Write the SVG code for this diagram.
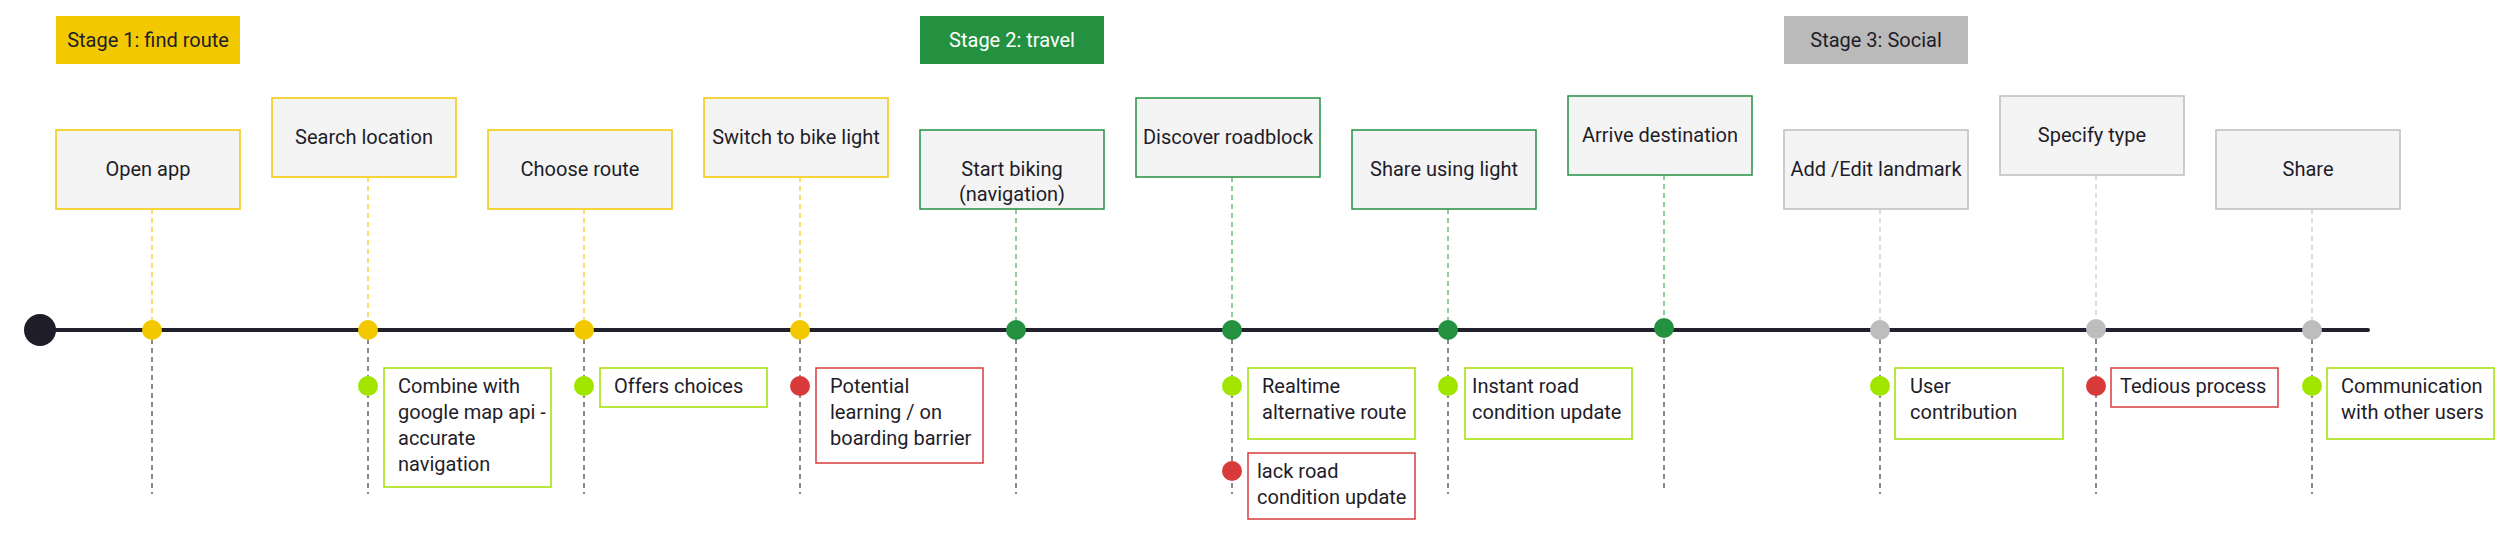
<svg xmlns="http://www.w3.org/2000/svg" width="2512" height="553" viewBox="0 0 2512 553">
<style>
text{font-family:Roboto,"Liberation Sans",sans-serif;font-size:20px;fill:#1f1d29}
.c{text-anchor:middle}
.w{fill:#ffffff}
.box{fill:#f4f4f4;stroke-width:1.5}
.y{stroke:#f2c900}
.g{stroke:#239140}
.s{stroke:#bdbdbd}
.note{fill:#ffffff;stroke-width:1.5}
.ok{stroke:#a2e000}
.bad{stroke:#d93b3b}
.dy{stroke:#f7dc6e;stroke-width:2;stroke-dasharray:5 4;fill:none}
.dg{stroke:#8ccf9c;stroke-width:2;stroke-dasharray:5 4;fill:none}
.ds{stroke:#dddddd;stroke-width:2;stroke-dasharray:5 4;fill:none}
.dd{stroke:#8a8a8a;stroke-width:2;stroke-dasharray:5 4;fill:none}
</style>
<rect width="2512" height="553" fill="#ffffff"/>

<g id="stages">
<g id="stage1"><rect x="56" y="16" width="184" height="48" fill="#f2c900"/><text x="148" y="47" class="c">Stage 1: find route</text></g>
<g id="stage2"><rect x="920" y="16" width="184" height="48" fill="#239140"/><text x="1012" y="47" class="c w">Stage 2: travel</text></g>
<g id="stage3"><rect x="1784" y="16" width="184" height="48" fill="#bababa"/><text x="1876" y="47" class="c">Stage 3: Social</text></g>
</g>

<g id="connectors">
<line x1="152" y1="209" x2="152" y2="330" class="dy"/>
<line x1="368" y1="177" x2="368" y2="330" class="dy"/>
<line x1="584" y1="209" x2="584" y2="330" class="dy"/>
<line x1="800" y1="177" x2="800" y2="330" class="dy"/>
<line x1="1016" y1="209" x2="1016" y2="330" class="dg"/>
<line x1="1232" y1="177" x2="1232" y2="330" class="dg"/>
<line x1="1448" y1="209" x2="1448" y2="330" class="dg"/>
<line x1="1664" y1="175" x2="1664" y2="330" class="dg"/>
<line x1="1880" y1="209" x2="1880" y2="330" class="ds"/>
<line x1="2096" y1="175" x2="2096" y2="330" class="ds"/>
<line x1="2312" y1="209" x2="2312" y2="330" class="ds"/>
<line x1="152" y1="330" x2="152" y2="494" class="dd"/>
<line x1="368" y1="330" x2="368" y2="494" class="dd"/>
<line x1="584" y1="330" x2="584" y2="494" class="dd"/>
<line x1="800" y1="330" x2="800" y2="494" class="dd"/>
<line x1="1016" y1="330" x2="1016" y2="494" class="dd"/>
<line x1="1232" y1="330" x2="1232" y2="494" class="dd"/>
<line x1="1448" y1="330" x2="1448" y2="494" class="dd"/>
<line x1="1664" y1="330" x2="1664" y2="492" class="dd"/>
<line x1="1880" y1="330" x2="1880" y2="494" class="dd"/>
<line x1="2096" y1="330" x2="2096" y2="494" class="dd"/>
<line x1="2312" y1="330" x2="2312" y2="494" class="dd"/>
<line id="timeline" x1="40" y1="330" x2="2368" y2="330" stroke="#23202e" stroke-width="4" stroke-linecap="round"/>
<circle cx="40" cy="330" r="16" fill="#201d2b"/>
</g>

<g id="n-open-app"><rect x="56" y="130" width="184" height="79" class="box y"/><text x="148" y="176" class="c">Open app</text><circle cx="152" cy="330" r="10" fill="#f2c900"/></g>
<g id="n-search-location"><rect x="272" y="98" width="184" height="79" class="box y"/><text x="364" y="144" class="c">Search location</text><circle cx="368" cy="330" r="10" fill="#f2c900"/></g>
<g id="n-choose-route"><rect x="488" y="130" width="184" height="79" class="box y"/><text x="580" y="176" class="c">Choose route</text><circle cx="584" cy="330" r="10" fill="#f2c900"/></g>
<g id="n-switch-light"><rect x="704" y="98" width="184" height="79" class="box y"/><text x="796" y="144" class="c">Switch to bike light</text><circle cx="800" cy="330" r="10" fill="#f2c900"/></g>
<g id="n-start-biking"><rect x="920" y="130" width="184" height="79" class="box g"/><text x="1012" y="176" class="c">Start biking</text><text x="1012" y="201" class="c">(navigation)</text><circle cx="1016" cy="330" r="10" fill="#239140"/></g>
<g id="n-discover-roadblock"><rect x="1136" y="98" width="184" height="79" class="box g"/><text x="1228" y="144" class="c">Discover roadblock</text><circle cx="1232" cy="330" r="10" fill="#239140"/></g>
<g id="n-share-light"><rect x="1352" y="130" width="184" height="79" class="box g"/><text x="1444" y="176" class="c">Share using light</text><circle cx="1448" cy="330" r="10" fill="#239140"/></g>
<g id="n-arrive"><rect x="1568" y="96" width="184" height="79" class="box g"/><text x="1660" y="142" class="c">Arrive destination</text><circle cx="1664" cy="328" r="10" fill="#239140"/></g>
<g id="n-add-landmark"><rect x="1784" y="130" width="184" height="79" class="box s"/><text x="1876" y="176" class="c">Add /Edit landmark</text><circle cx="1880" cy="330" r="10" fill="#bdbdbd"/></g>
<g id="n-specify-type"><rect x="2000" y="96" width="184" height="79" class="box s"/><text x="2092" y="142" class="c">Specify type</text><circle cx="2096" cy="329" r="10" fill="#bdbdbd"/></g>
<g id="n-share"><rect x="2216" y="130" width="184" height="79" class="box s"/><text x="2308" y="176" class="c">Share</text><circle cx="2312" cy="330" r="10" fill="#bdbdbd"/></g>

<g id="note-combine"><circle cx="368" cy="386" r="10" fill="#a2e600"/><rect x="384" y="368" width="167" height="119" class="note ok"/><text x="398" y="393">Combine with</text><text x="398" y="419">google map api -</text><text x="398" y="445">accurate</text><text x="398" y="471">navigation</text></g>
<g id="note-offers"><circle cx="584" cy="386" r="10" fill="#a2e600"/><rect x="600" y="368" width="167" height="39" class="note ok"/><text x="614" y="393">Offers choices</text></g>
<g id="note-potential"><circle cx="800" cy="386" r="10" fill="#d93b3b"/><rect x="816" y="368" width="167" height="95" class="note bad"/><text x="830" y="393">Potential</text><text x="830" y="419">learning / on</text><text x="830" y="445">boarding barrier</text></g>
<g id="note-realtime"><circle cx="1232" cy="386" r="10" fill="#a2e600"/><rect x="1248" y="368" width="167" height="71" class="note ok"/><text x="1262" y="393">Realtime</text><text x="1262" y="419">alternative route</text></g>
<g id="note-lack"><circle cx="1232" cy="471" r="10" fill="#d93b3b"/><rect x="1248" y="453" width="167" height="66" class="note bad"/><text x="1257" y="478">lack road</text><text x="1257" y="504">condition update</text></g>
<g id="note-instant"><circle cx="1448" cy="386" r="10" fill="#a2e600"/><rect x="1465" y="368" width="167" height="71" class="note ok"/><text x="1472" y="393">Instant road</text><text x="1472" y="419">condition update</text></g>
<g id="note-user"><circle cx="1880" cy="386" r="10" fill="#a2e600"/><rect x="1895" y="368" width="168" height="71" class="note ok"/><text x="1910" y="393">User</text><text x="1910" y="419">contribution</text></g>
<g id="note-tedious"><circle cx="2096" cy="386" r="10" fill="#d93b3b"/><rect x="2111" y="368" width="167" height="39" class="note bad"/><text x="2120" y="393">Tedious process</text></g>
<g id="note-communication"><circle cx="2312" cy="386" r="10" fill="#a2e600"/><rect x="2327" y="368" width="167" height="71" class="note ok"/><text x="2341" y="393">Communication</text><text x="2341" y="419">with other users</text></g>
</svg>
